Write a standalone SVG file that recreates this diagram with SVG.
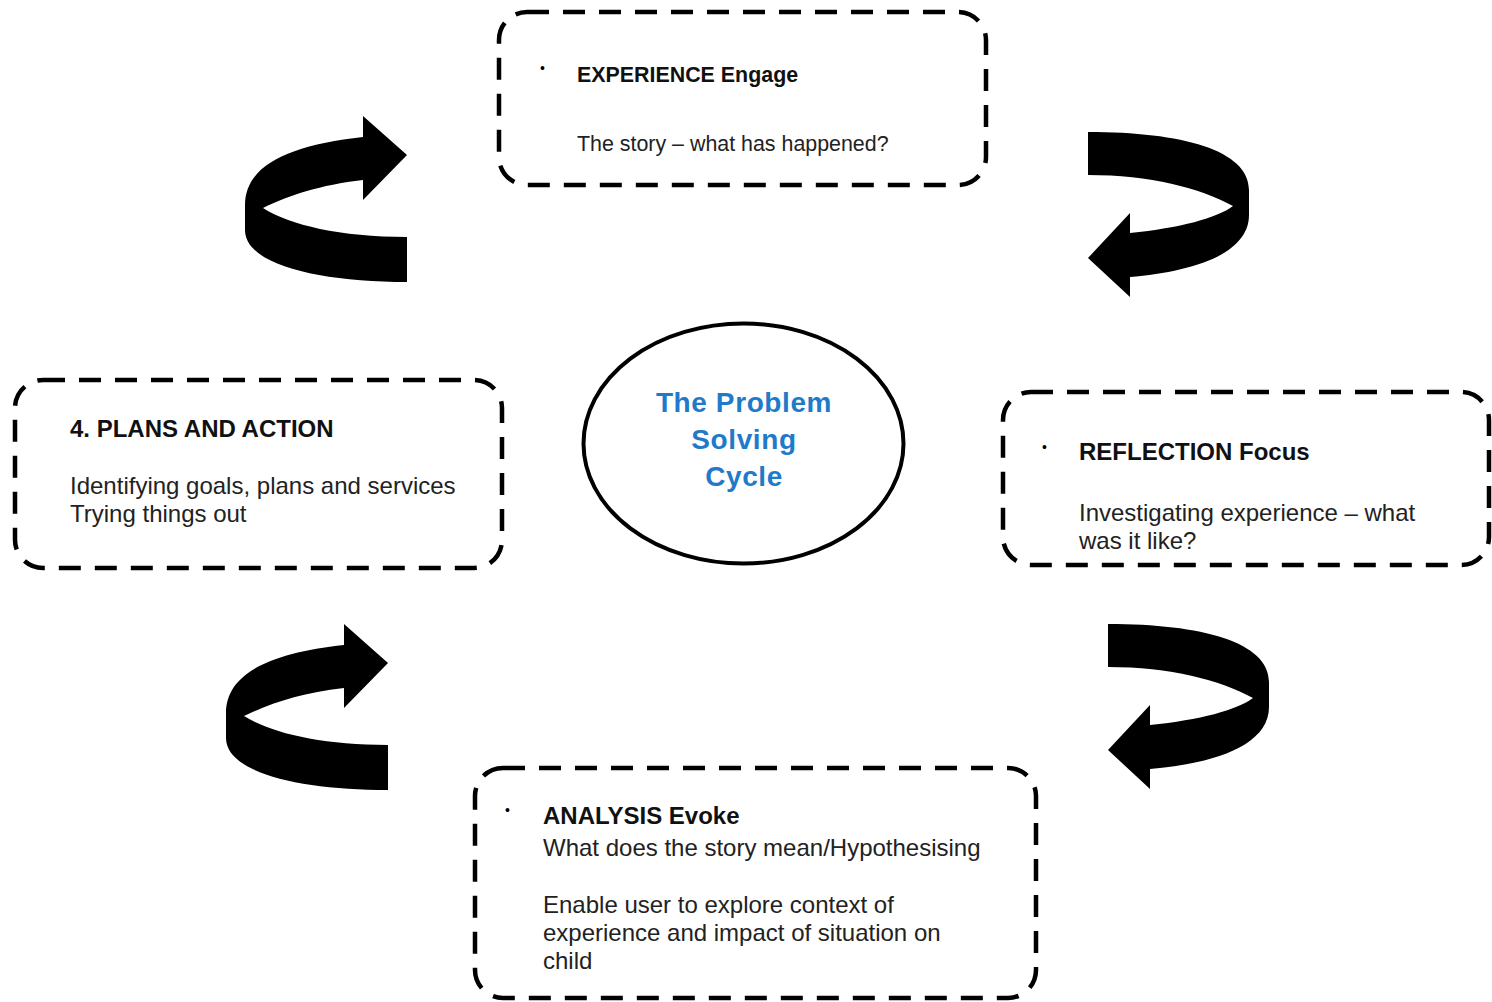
<svg xmlns="http://www.w3.org/2000/svg" width="1492" height="1002" viewBox="0 0 1492 1002">
<style>
.box{fill:#fff;stroke:#000;stroke-width:4.5;stroke-dasharray:22 14}
.t{font-family:"Liberation Sans",Arial,sans-serif;font-size:21.4px;fill:#222}
.l{font-size:24px}
.b{font-weight:bold;fill:#111}
.dot{font-family:"Liberation Sans",Arial,sans-serif;font-size:14px;fill:#000}
.title{font-family:"Liberation Sans",Arial,sans-serif;font-size:28px;font-weight:bold;fill:#1f7bc9;text-anchor:middle;letter-spacing:0.6px}
.arr{fill:#000}
</style>
<defs>
<path id="arrR" d="M363,137 C290,145 245,165 245,205 L245,230 C245,265 320,282 407,282 L407,237 C340,237 290,225 263,208 C290,195 320,185 363,180 L363,200 L407,155 L363,116 Z"/>
<path id="arrL" d="M1088,132 C1182,132 1249,150 1249,190 L1249,215 C1249,255 1190,272 1130,277 L1130,297 L1088,258 L1130,213 L1130,233 C1180,228 1217,218 1233,206 C1200,188 1150,175 1088,175 Z"/>
</defs>
<rect width="1492" height="1002" fill="#fff"/>
<g id="connectors">
<use href="#arrR" class="arr"/>
<use href="#arrL" class="arr"/>
<use href="#arrR" class="arr" transform="translate(-19,508)"/>
<use href="#arrL" class="arr" transform="translate(20,492)"/>
</g>
<g id="experience">
<rect class="box" x="499" y="12" width="487" height="173" rx="28"/>
<text class="dot" x="540" y="73">•</text>
<text class="t b" x="577" y="82">EXPERIENCE Engage</text>
<text class="t" x="577" y="151">The story – what has happened?</text>
</g>
<g id="reflection">
<rect class="box" x="1003" y="392" width="486" height="173" rx="28"/>
<text class="dot" x="1042" y="452">•</text>
<text class="t l b" x="1079" y="460">REFLECTION Focus</text>
<text class="t l" x="1079" y="521">Investigating experience – what</text>
<text class="t l" x="1079" y="549">was it like?</text>
</g>
<g id="analysis">
<rect class="box" x="475" y="768" width="561" height="230" rx="28"/>
<text class="dot" x="505" y="815">•</text>
<text class="t l b" x="543" y="824">ANALYSIS Evoke</text>
<text class="t l" x="543" y="856">What does the story mean/Hypothesising</text>
<text class="t l" x="543" y="913">Enable user to explore context of</text>
<text class="t l" x="543" y="941">experience and impact of situation on</text>
<text class="t l" x="543" y="969">child</text>
</g>
<g id="plans">
<rect class="box" x="15" y="380" width="487" height="188" rx="28"/>
<text class="t l b" x="70" y="437">4. PLANS AND ACTION</text>
<text class="t l" x="70" y="494">Identifying goals, plans and services</text>
<text class="t l" x="70" y="522">Trying things out</text>
</g>
<g id="center">
<ellipse cx="743.5" cy="443.5" rx="160" ry="120" fill="#fff" stroke="#000" stroke-width="4"/>
<text class="title" x="744" y="412">The Problem</text>
<text class="title" x="744" y="449">Solving</text>
<text class="title" x="744" y="486">Cycle</text>
</g>
</svg>
